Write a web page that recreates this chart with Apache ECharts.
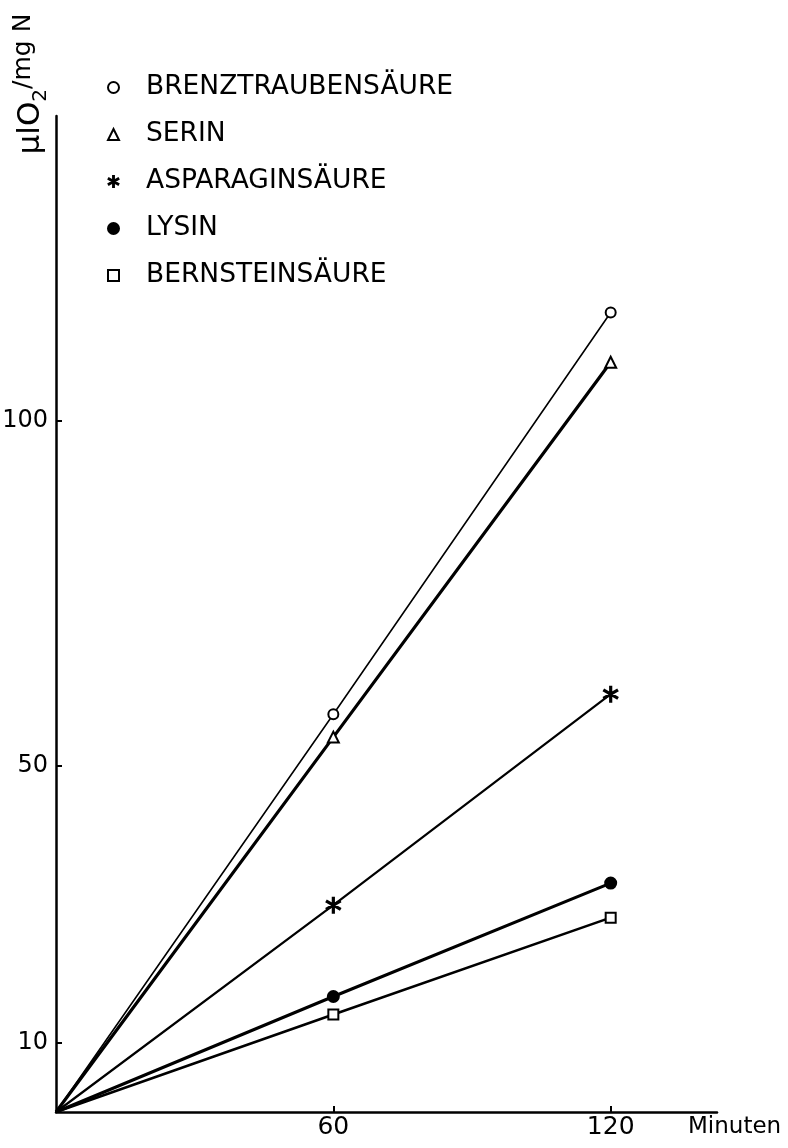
<!DOCTYPE html>
<html>
<head>
<meta charset="utf-8">
<script src="https://cdn.jsdelivr.net/npm/echarts@6/dist/echarts.min.js"></script>
<style>
  html, body { margin: 0; padding: 0; background: #fff; }
  #chart { width: 788px; height: 1148px; }
</style>
</head>
<body>
<div id="chart"></div>
<script>
// ---- data ----
const xMinutes = [0, 60, 120];
const brenztraubensaeure = [0, 57.5, 115.6];
const serin = [0, 54.2, 108.4];
const asparaginsaeure = [0, 29.9, 60.4];
const lysin = [0, 16.7, 33.1];
const bernsteinsaeure = [0, 14.1, 28.1];
const seriesNames = ['BRENZTRAUBENSÄURE', 'SERIN', 'ASPARAGINSÄURE', 'LYSIN', 'BERNSTEINSÄURE'];
const yTickValues = [10, 50, 100];
const xTickValues = [60, 120];

const FONT = 'DejaVu Sans';
const ASTERISK = 'path://M-0.08,-1L0.08,-1L0.08,1L-0.08,1Z' +
  'M0.906,0.431L0.826,0.569L-0.906,-0.431L-0.826,-0.569Z' +
  'M0.826,-0.569L0.906,-0.431L-0.826,0.569L-0.906,0.431Z';

const styles = [
  { symbol: 'emptyCircle', size: 10, width: 1.6 },
  { symbol: 'emptyTriangle', size: 11, width: 3.2 },
  { symbol: ASTERISK, size: 15, width: 2.2 },
  { symbol: 'circle', size: 11, width: 3.0 },
  { symbol: 'emptyRect', size: 10, width: 2.6 }
];
const values = [brenztraubensaeure, serin, asparaginsaeure, lysin, bernsteinsaeure];

const series = seriesNames.map((name, i) => ({
  name: name,
  type: 'line',
  symbol: styles[i].symbol,
  symbolSize: styles[i].size,
  symbolKeepAspect: true,
  showAllSymbol: true,
  z: 5 - i,
  lineStyle: { color: '#000', width: styles[i].width },
  itemStyle: { color: '#000', borderColor: '#000', borderWidth: 2 },
  emphasis: { disabled: true },
  data: xMinutes.map((x, j) => j === 0
    ? { value: [x, values[i][j]], symbol: 'none' }
    : { value: [x, values[i][j]] })
}));

const chart = echarts.init(document.getElementById('chart'), null, { renderer: 'canvas' });
chart.setOption({
  animation: false,
  backgroundColor: '#fff',
  grid: { left: 56, right: 71, top: 116, bottom: 36, outerBoundsMode: 'none' },
  legend: {
    orient: 'vertical',
    left: 107,
    top: 74,
    padding: 0,
    itemWidth: 11,
    itemHeight: 11,
    itemGap: 20,
    selectedMode: false,
    textStyle: { fontFamily: FONT, fontSize: 26.5, color: '#000', lineHeight: 26, padding: [0, 0, 0, 22] },
    data: seriesNames.map((n, i) => ({ name: n, icon: styles[i].symbol }))
  },
  xAxis: {
    type: 'value',
    min: 0,
    max: 143,
    splitLine: { show: false },
    axisLine: { show: true, lineStyle: { color: '#000', width: 2.5 } },
    axisTick: { show: true, inside: true, length: 6, customValues: xTickValues, lineStyle: { color: '#000', width: 2 } },
    axisLabel: { customValues: xTickValues, fontFamily: FONT, fontSize: 25, color: '#000', margin: 3 }
  },
  yAxis: {
    type: 'value',
    min: 0,
    max: 144,
    splitLine: { show: false },
    axisLine: { show: true, lineStyle: { color: '#000', width: 2.5 } },
    axisTick: { show: true, inside: true, length: 6, customValues: yTickValues, lineStyle: { color: '#000', width: 2 } },
    axisLabel: { customValues: yTickValues, fontFamily: FONT, fontSize: 24, color: '#000', margin: 8 }
  },
  graphic: [
    {
      type: 'text',
      x: 31,
      y: 84,
      rotation: Math.PI / 2,
      style: {
        text: '{a|μlO}{b|2}{c|/mg N}',
        align: 'center',
        verticalAlign: 'middle',
        fill: '#000',
        rich: {
          a: { fontFamily: FONT, fontSize: 31, lineHeight: 40, verticalAlign: 'middle' },
          b: { fontFamily: FONT, fontSize: 20, lineHeight: 40, verticalAlign: 'bottom' },
          c: { fontFamily: FONT, fontSize: 25, lineHeight: 40, verticalAlign: 'top' }
        }
      }
    },
    {
      type: 'text',
      left: 688,
      top: 1116,
      style: { text: 'Minuten', fontFamily: FONT, fontSize: 23, fill: '#000' }
    }
  ],
  series: series
});
</script>
</body>
</html>
